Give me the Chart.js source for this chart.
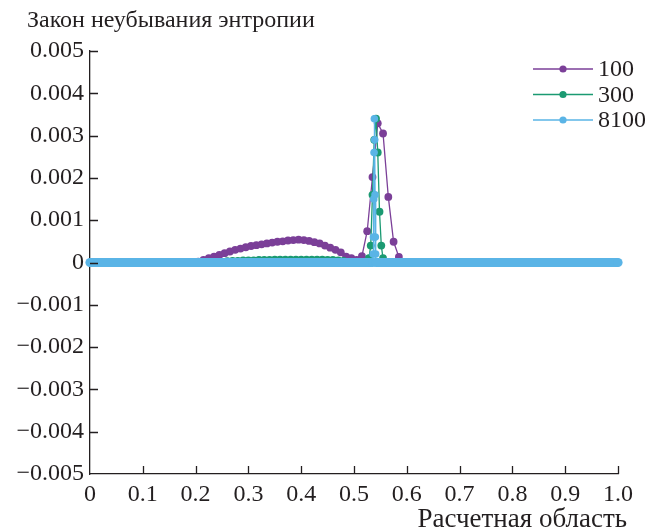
<!DOCTYPE html>
<html>
<head>
<meta charset="utf-8">
<script src="https://cdn.jsdelivr.net/npm/chart.js@4.4.1/dist/chart.umd.min.js"></script>
<style>
  html, body { margin: 0; padding: 0; background: #fff; }
  #wrap { width: 645px; height: 532px; }
</style>
</head>
<body>
<div id="wrap"><canvas id="myChart" width="645" height="532"></canvas></div>
<script>
var titleText = 'Закон неубывания энтропии';
var xTitle = 'Расчетная область';
var seriesNames = ['100', '300', '8100'];
var seriesColors = ['#7b3f98', '#1b9a72', '#5ab4e6'];
var inkColor = '#231f20';
var serif = '"Liberation Serif", "DejaVu Serif", serif';

// grid of 100 cells
var x100 = [0.005, 0.195, 0.205, 0.215, 0.225, 0.235, 0.245, 0.255, 0.265, 0.275,
  0.285, 0.295, 0.305, 0.315, 0.325, 0.335, 0.345, 0.355, 0.365, 0.375,
  0.385, 0.395, 0.405, 0.415, 0.425, 0.435, 0.445, 0.455, 0.465, 0.475,
  0.485, 0.495, 0.505, 0.515, 0.525, 0.535, 0.545, 0.555, 0.565, 0.575,
  0.585, 0.595, 0.995];
var y100 = [0, 0, 0.00002, 0.00006, 0.0001, 0.00014, 0.00018, 0.00022, 0.00026, 0.0003,
  0.00033, 0.00036, 0.00039, 0.00041, 0.00043, 0.00045, 0.00047, 0.00049, 0.0005, 0.00052,
  0.00053, 0.00054, 0.00053, 0.00051, 0.00048, 0.00045, 0.0004, 0.00035, 0.0003, 0.00024,
  0.00014, 0.0001, 0.00006, 0.00015, 0.00074, 0.00202, 0.00329, 0.00305, 0.00155, 0.00049,
  0.00013, 0, 0];

// grid of 300 cells
var x300 = [0.0017, 0.25, 0.26, 0.27, 0.28, 0.29, 0.30, 0.31, 0.32, 0.33,
  0.34, 0.35, 0.36, 0.37, 0.38, 0.39, 0.40, 0.41, 0.42, 0.43,
  0.44, 0.45, 0.46, 0.47, 0.48, 0.49, 0.525, 0.5283, 0.5317, 0.535,
  0.5383, 0.5417, 0.545, 0.5483, 0.5517, 0.555, 0.5583, 0.9983];
var y300 = [0, 0, 0.00003, 0.00004, 0.00004, 0.00005, 0.00005, 0.00005, 0.00006, 0.00006,
  0.00006, 0.00007, 0.00007, 0.00007, 0.00007, 0.00007, 0.00007, 0.00007, 0.00007, 0.00007,
  0.00007, 0.00006, 0.00006, 0.00005, 0.00004, 0, 0, 0.0001, 0.0004, 0.0016,
  0.0029, 0.0034, 0.0026, 0.0012, 0.0004, 0.0001, 0, 0];

// grid of 8100 cells
var x8100 = [0, 0.5355, 0.5362, 0.5368, 0.5374, 0.538, 0.5386, 0.5392, 0.5398, 0.5404,
  0.541, 0.5416, 1];
var y8100 = [0, 0, 0.0002, 0.0006, 0.0015, 0.0026, 0.0034, 0.0029, 0.0016, 0.0006,
  0.0002, 0, 0];

var xTicks = [0, 0.1, 0.2, 0.3, 0.4, 0.5, 0.6, 0.7, 0.8, 0.9, 1.0];
var yTicks = [0.005, 0.004, 0.003, 0.002, 0.001, 0, -0.001, -0.002, -0.003, -0.004, -0.005];

function toPoints(xs, ys) {
  var pts = [];
  for (var i = 0; i < xs.length; i++) {
    pts.push({x: xs[i], y: ys[i]});
  }
  return pts;
}

function makeSet(k, xs, ys) {
  return {
    label: seriesNames[k],
    data: toPoints(xs, ys),
    borderColor: seriesColors[k],
    backgroundColor: seriesColors[k],
    borderWidth: 1.3,
    pointRadius: 3.9,
    pointBorderWidth: 0,
    pointStyle: 'circle',
    clip: false,
    order: 3 - k
  };
}

var sets = [makeSet(0, x100, y100), makeSet(1, x300, y300), makeSet(2, x8100, y8100)];
// the fine grid sits on zero almost everywhere: its markers merge into one wide band
sets[2].segment = {
  borderWidth: function(ctx) {
    return (ctx.p0.parsed.y === 0 && ctx.p1.parsed.y === 0) ? 9 : 1.5;
  }
};
sets[2].pointRadius = function(ctx) {
  return y8100[ctx.dataIndex] === 0 ? 4.6 : 3.8;
};

var decor = {
  id: 'decor',
  afterDraw: function(chart) {
    var ctx = chart.ctx;
    var area = chart.chartArea;
    var xs = chart.scales.x;
    var ys = chart.scales.y;
    ctx.save();
    ctx.strokeStyle = inkColor;
    ctx.lineWidth = 1.3;
    ctx.beginPath();
    for (var i = 1; i < xTicks.length; i++) {
      var px = Math.round(xs.getPixelForValue(xTicks[i])) + 0.5;
      ctx.moveTo(px, area.bottom);
      ctx.lineTo(px, area.bottom - 8);
    }
    for (var j = 0; j < yTicks.length - 1; j++) {
      var py = Math.round(ys.getPixelForValue(yTicks[j])) + 0.5;
      ctx.moveTo(area.left, py);
      ctx.lineTo(area.left + 8, py);
    }
    ctx.stroke();

    ctx.fillStyle = inkColor;
    ctx.textBaseline = 'alphabetic';
    ctx.textAlign = 'left';
    ctx.font = '24px ' + serif;
    ctx.fillText(titleText, 27, 27);
    ctx.textAlign = 'right';
    ctx.font = '27px ' + serif;
    ctx.fillText(xTitle, 627, 527);

    // legend: line sample with a marker, then the label
    ctx.font = '24px ' + serif;
    ctx.textAlign = 'left';
    ctx.textBaseline = 'middle';
    for (var k = 0; k < seriesNames.length; k++) {
      var ly = 69 + k * 25.5;
      ctx.strokeStyle = seriesColors[k];
      ctx.fillStyle = seriesColors[k];
      ctx.lineWidth = 1.5;
      ctx.beginPath();
      ctx.moveTo(533, ly);
      ctx.lineTo(593, ly);
      ctx.stroke();
      ctx.beginPath();
      ctx.arc(563, ly, 3.6, 0, Math.PI * 2);
      ctx.fill();
      ctx.fillStyle = inkColor;
      ctx.fillText(seriesNames[k], 598, ly + 1);
    }
    ctx.restore();
  }
};

var tickFont = {family: serif, size: 24};

var myChart = new Chart(document.getElementById('myChart'), {
  type: 'line',
  data: {datasets: sets},
  options: {
    responsive: false,
    animation: false,
    devicePixelRatio: 1,
    layout: {padding: {top: 51, right: 27, bottom: 0, left: 0}},
    plugins: {legend: {display: false}, tooltip: {enabled: false}},
    scales: {
      x: {
        type: 'linear',
        min: 0,
        max: 1,
        afterBuildTicks: function(scale) {
          scale.ticks = xTicks.map(function(v) { return {value: v}; });
        },
        afterFit: function(scale) { scale.height = 58; },
        ticks: {
          font: tickFont,
          color: inkColor,
          padding: 6,
          maxRotation: 0,
          callback: function(v) { return v === 0 ? '0' : v.toFixed(1); }
        },
        grid: {display: false, drawTicks: false},
        border: {color: inkColor, width: 1.3}
      },
      y: {
        type: 'linear',
        min: -0.005,
        max: 0.005,
        afterBuildTicks: function(scale) {
          scale.ticks = yTicks.map(function(v) { return {value: v}; });
        },
        afterFit: function(scale) { scale.width = 90; },
        ticks: {
          font: tickFont,
          color: inkColor,
          padding: 6,
          callback: function(v) {
            if (v === 0) return '0';
            return (v < 0 ? '\u2212' : '') + Math.abs(v).toFixed(3);
          }
        },
        grid: {display: false, drawTicks: false},
        border: {color: inkColor, width: 1.3}
      }
    }
  },
  plugins: [decor]
});
</script>
</body>
</html>
